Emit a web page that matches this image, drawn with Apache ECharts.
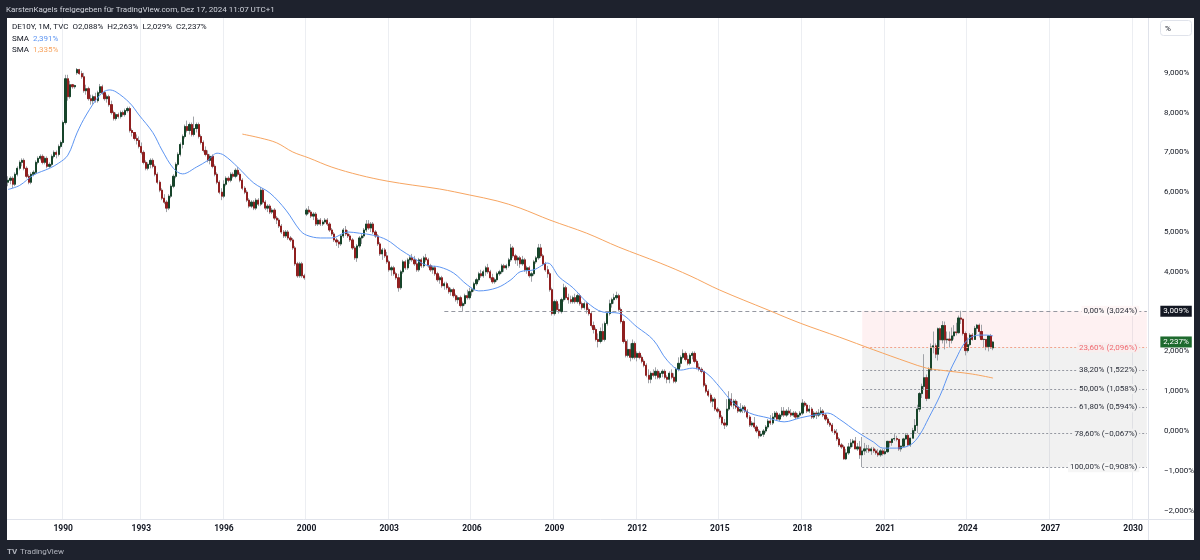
<!DOCTYPE html>
<html><head><meta charset="utf-8">
<script src="https://cdn.jsdelivr.net/npm/echarts/dist/echarts.min.js"></script>
<style>html,body{margin:0;padding:0;background:#1e222d}#c{width:1200px;height:560px}</style>
</head><body><div id="c"></div><script>
// ---------- DATA ----------
const firstMonth = [1988, 1];
const lastMonth = [2030, 7];
const skippedMonths = ['1990-05','1990-06','1999-01','1999-02','1999-03','1999-04','1999-05','1999-06','1999-07','1999-08','1999-09','1999-10','1999-11','1999-12'];
const yearLabels = ['1990','1993','1996','2000','2003','2006','2009','2012','2015','2018','2021','2024','2027','2030'];
const yTicks = [-2,-1,0,1,2,3,4,5,6,7,8,9];

// monthly bars [open, high, low, close]
const bars1988_1992 = [
[6.25,6.4,6.15,6.3],[6.3,6.4,6.2,6.35],[6.35,6.4,6.1,6.2],[6.2,6.5,6.15,6.45],[6.45,6.65,6.4,6.6],[6.6,6.8,6.55,6.75],
[6.75,6.85,6.65,6.8],[6.8,6.85,6.55,6.6],[6.6,6.65,6.35,6.4],[6.4,6.45,6.2,6.25],[6.25,6.5,6.2,6.45],[6.45,6.55,6.4,6.5],
[6.5,6.8,6.45,6.75],[6.75,6.9,6.7,6.85],[6.85,6.95,6.8,6.9],[6.9,6.95,6.7,6.75],[6.75,6.9,6.7,6.85],[6.85,6.9,6.6,6.65],
[6.65,6.75,6.6,6.7],[6.7,6.95,6.65,6.9],[6.9,7.05,6.85,7.0],[7.0,7.05,6.85,6.95],[6.95,7.2,6.9,7.15],[7.15,7.3,7.1,7.25],
[7.25,7.8,7.2,7.75],[7.75,8.95,7.7,8.85],[8.85,8.95,8.3,8.4],[8.4,8.8,8.35,8.7],[8.7,8.72,8.6,8.65],[8.65,8.7,8.6,8.68],
[9.0,9.12,8.95,9.08],[9.08,9.1,8.95,8.98],[8.98,9.05,8.85,8.9],[8.9,9.0,8.5,8.55],[8.55,8.7,8.45,8.6],[8.6,8.65,8.3,8.35],
[8.35,8.45,8.2,8.3],[8.3,8.45,8.2,8.4],[8.4,8.5,8.25,8.3],[8.3,8.55,8.25,8.5],[8.5,8.72,8.45,8.65],[8.65,8.7,8.45,8.5],
[8.5,8.55,8.3,8.35],[8.35,8.45,8.25,8.4],[8.4,8.45,8.15,8.2],[8.2,8.3,7.95,8.0],[8.0,8.05,7.8,7.85],[7.85,8.0,7.8,7.95],
[7.95,8.0,7.85,7.9],[7.9,8.05,7.85,8.0],[8.0,8.05,7.9,7.95],[7.95,8.1,7.9,8.05],[8.05,8.15,8.0,8.1],[8.1,8.15,7.5,7.55],
[7.55,7.6,7.4,7.5],[7.5,7.5,7.3,7.35],[7.35,7.45,7.2,7.3],[7.3,7.4,7.1,7.15]];
const bars1993_1998 = [
[7.15,7.25,6.95,7.0],[7.0,7.05,6.7,6.75],[6.75,6.8,6.55,6.6],[6.6,6.75,6.55,6.7],[6.7,6.85,6.6,6.8],[6.8,6.85,6.6,6.65],
[6.65,6.7,6.4,6.45],[6.45,6.5,6.2,6.25],[6.25,6.3,6.0,6.05],[6.05,6.1,5.8,5.85],[5.85,5.95,5.7,5.75],[5.75,5.8,5.5,5.6],
[5.6,5.95,5.55,5.9],[5.9,6.2,5.85,6.15],[6.15,6.45,6.1,6.4],[6.4,6.75,6.35,6.7],[6.7,7.0,6.65,6.95],[6.95,7.25,6.9,7.2],
[7.2,7.45,7.1,7.4],[7.4,7.7,7.35,7.65],[7.65,7.8,7.5,7.55],[7.55,7.75,7.45,7.7],[7.7,7.75,7.4,7.45],[7.45,7.9,7.4,7.6],
[7.6,7.75,7.5,7.7],[7.7,7.75,7.35,7.4],[7.4,7.45,7.2,7.25],[7.25,7.3,7.0,7.05],[7.05,7.15,6.9,6.95],[6.95,7.05,6.75,6.8],
[6.8,6.95,6.7,6.9],[6.9,6.95,6.6,6.65],[6.65,6.7,6.4,6.45],[6.45,6.5,6.2,6.25],[6.25,6.3,5.95,6.0],[6.0,6.1,5.8,5.9],
[5.9,6.3,5.85,6.2],[6.2,6.4,6.15,6.35],[6.35,6.4,6.25,6.3],[6.3,6.5,6.25,6.45],[6.45,6.5,6.35,6.4],[6.4,6.6,6.35,6.55],
[6.55,6.63,6.4,6.45],[6.45,6.5,6.25,6.3],[6.3,6.35,6.05,6.1],[6.1,6.15,5.95,6.0],[6.0,6.05,5.75,5.8],[5.8,5.85,5.6,5.65],
[5.65,5.8,5.6,5.75],[5.75,5.8,5.55,5.6],[5.6,5.85,5.55,5.8],[5.8,5.85,5.65,5.7],[5.7,6.13,5.65,6.05],[6.05,6.1,5.7,5.75],
[5.75,5.8,5.55,5.6],[5.6,5.7,5.5,5.65],[5.65,5.7,5.45,5.5],[5.5,5.6,5.45,5.55],[5.55,5.6,5.3,5.35],[5.35,5.4,5.2,5.3],
[5.3,5.35,5.1,5.15],[5.15,5.2,4.95,5.0],[5.0,5.05,4.85,4.9],[4.9,5.05,4.85,5.0],[5.0,5.05,4.8,4.85],[4.85,4.9,4.75,4.8],
[4.8,4.85,4.55,4.6],[4.6,4.65,4.15,4.2],[4.2,4.25,3.85,3.9],[3.9,4.25,3.85,4.2],[4.2,4.25,3.85,3.9],[3.9,3.95,3.8,3.85]];
const bars2000_2005 = [
[5.45,5.6,5.4,5.55],[5.55,5.65,5.45,5.5],[5.5,5.55,5.35,5.4],[5.4,5.5,5.3,5.45],[5.45,5.5,5.15,5.2],[5.2,5.35,5.15,5.3],
[5.3,5.35,5.15,5.2],[5.2,5.3,5.15,5.25],[5.25,5.35,5.2,5.3],[5.3,5.35,5.15,5.2],[5.2,5.25,5.0,5.05],[5.05,5.1,4.9,4.95],
[4.95,5.0,4.75,4.8],[4.8,4.85,4.65,4.75],[4.75,4.8,4.6,4.7],[4.7,4.95,4.65,4.9],[4.9,5.1,4.85,5.05],[5.05,5.15,4.9,4.95],
[4.95,5.05,4.85,4.9],[4.9,4.95,4.75,4.8],[4.8,4.85,4.55,4.6],[4.6,4.65,4.3,4.35],[4.35,4.7,4.25,4.65],[4.65,4.9,4.6,4.85],
[4.85,4.95,4.7,4.9],[4.9,5.1,4.85,5.05],[5.05,5.3,5.0,5.2],[5.2,5.3,5.05,5.1],[5.1,5.25,5.0,5.2],[5.2,5.25,4.95,5.0],
[5.0,5.05,4.85,4.9],[4.9,4.95,4.65,4.7],[4.7,4.75,4.4,4.45],[4.45,4.6,4.3,4.55],[4.55,4.6,4.35,4.4],[4.4,4.5,4.2,4.25],
[4.25,4.3,4.0,4.05],[4.05,4.15,3.9,4.1],[4.1,4.15,3.9,3.95],[3.95,4.0,3.8,3.85],[3.85,3.95,3.5,3.6],[3.6,4.05,3.55,4.0],
[4.0,4.3,3.95,4.25],[4.25,4.3,4.05,4.1],[4.1,4.35,4.05,4.3],[4.3,4.4,4.2,4.35],[4.35,4.45,4.25,4.3],[4.3,4.4,4.15,4.2],
[4.2,4.3,4.0,4.05],[4.05,4.35,4.0,4.3],[4.3,4.35,4.1,4.15],[4.15,4.4,4.1,4.35],[4.35,4.45,4.25,4.3],[4.3,4.35,4.1,4.15],
[4.15,4.2,4.0,4.05],[4.05,4.15,3.95,4.1],[4.1,4.15,3.9,3.95],[3.95,4.0,3.75,3.8],[3.8,3.9,3.7,3.85],[3.85,3.9,3.6,3.65],
[3.65,3.75,3.55,3.7],[3.7,3.75,3.55,3.6],[3.6,3.65,3.45,3.5],[3.5,3.6,3.4,3.55],[3.55,3.6,3.35,3.4],[3.4,3.45,3.25,3.3],
[3.3,3.4,3.2,3.35],[3.35,3.4,3.1,3.15],[3.15,3.25,3.0,3.2],[3.2,3.45,3.15,3.4],[3.4,3.55,3.3,3.35],[3.35,3.6,3.3,3.5]];
const bars2006_2011 = [
[3.5,3.6,3.4,3.55],[3.55,3.75,3.5,3.7],[3.7,3.85,3.65,3.8],[3.8,4.0,3.75,3.95],[3.95,4.05,3.85,3.9],[3.9,4.05,3.85,4.0],
[4.0,4.15,3.9,4.1],[4.1,4.2,3.95,4.0],[4.0,4.05,3.8,3.85],[3.85,3.95,3.7,3.75],[3.75,3.85,3.7,3.8],[3.8,4.0,3.75,3.95],
[3.95,4.05,3.9,4.0],[4.0,4.2,3.95,4.15],[4.15,4.2,4.0,4.1],[4.1,4.2,4.05,4.15],[4.15,4.35,4.1,4.3],[4.3,4.7,4.25,4.6],
[4.6,4.65,4.35,4.4],[4.4,4.45,4.2,4.3],[4.3,4.4,4.15,4.35],[4.35,4.4,4.1,4.2],[4.2,4.4,4.15,4.3],[4.3,4.35,4.0,4.05],
[4.05,4.15,3.95,4.1],[4.1,4.15,3.85,3.9],[3.9,4.0,3.75,3.95],[3.95,4.3,3.9,4.25],[4.25,4.4,4.2,4.35],[4.35,4.7,4.3,4.6],
[4.6,4.7,4.35,4.4],[4.4,4.45,4.15,4.2],[4.2,4.25,4.0,4.05],[4.05,4.15,3.85,3.95],[3.95,4.0,3.5,3.55],[3.55,3.6,2.9,2.95],
[2.95,3.3,2.9,3.25],[3.25,3.3,3.0,3.05],[3.05,3.2,2.95,3.0],[3.0,3.35,2.95,3.3],[3.3,3.7,3.25,3.6],[3.6,3.65,3.3,3.35],
[3.35,3.45,3.2,3.3],[3.3,3.4,3.2,3.25],[3.25,3.4,3.2,3.35],[3.35,3.45,3.2,3.25],[3.25,3.45,3.2,3.4],[3.4,3.45,3.15,3.2],
[3.2,3.25,3.05,3.1],[3.1,3.25,3.05,3.2],[3.2,3.25,2.95,3.05],[3.05,3.1,2.9,2.95],[2.95,3.0,2.6,2.65],[2.65,2.75,2.45,2.55],
[2.55,2.6,2.25,2.3],[2.3,2.45,2.1,2.25],[2.25,2.6,2.2,2.5],[2.5,2.7,2.25,2.3],[2.3,2.75,2.25,2.7],[2.7,3.0,2.65,2.95],
[2.95,3.3,2.9,3.2],[3.2,3.35,3.1,3.3],[3.3,3.45,3.2,3.35],[3.35,3.5,3.3,3.4],[3.4,3.45,3.0,3.05],[3.05,3.1,2.7,2.75],
[2.75,2.8,2.2,2.25],[2.25,2.3,1.85,1.9],[1.9,2.3,1.85,2.05],[2.05,2.2,1.75,1.85],[1.85,2.3,1.8,2.2],[2.2,2.25,1.8,1.85]];
const bars2012_2017 = [
[1.85,2.0,1.75,1.95],[1.95,2.0,1.8,1.85],[1.85,1.9,1.7,1.75],[1.75,1.8,1.6,1.65],[1.65,1.7,1.35,1.4],[1.4,1.55,1.2,1.3],
[1.3,1.5,1.2,1.45],[1.45,1.55,1.35,1.4],[1.4,1.6,1.3,1.5],[1.5,1.55,1.3,1.35],[1.35,1.5,1.3,1.45],[1.45,1.55,1.35,1.5],
[1.5,1.55,1.3,1.35],[1.35,1.4,1.2,1.3],[1.3,1.5,1.2,1.45],[1.45,1.55,1.3,1.35],[1.35,1.45,1.2,1.25],[1.25,1.6,1.2,1.55],
[1.55,1.85,1.5,1.7],[1.7,1.9,1.6,1.85],[1.85,2.05,1.8,1.95],[1.95,2.0,1.75,1.8],[1.8,1.9,1.65,1.7],[1.7,1.95,1.65,1.9],
[1.9,2.0,1.8,1.95],[1.95,2.0,1.7,1.75],[1.75,1.8,1.55,1.6],[1.6,1.7,1.5,1.55],[1.55,1.6,1.45,1.5],[1.5,1.5,1.1,1.15],
[1.15,1.2,0.95,1.0],[1.0,1.05,0.85,0.9],[0.9,0.95,0.7,0.75],[0.75,0.85,0.6,0.8],[0.8,0.85,0.5,0.55],[0.55,0.6,0.45,0.5],
[0.5,0.55,0.3,0.35],[0.35,0.4,0.15,0.2],[0.2,0.3,0.05,0.15],[0.15,0.8,0.1,0.55],[0.55,1.0,0.5,0.8],[0.8,0.95,0.6,0.65],
[0.65,0.8,0.55,0.75],[0.75,0.8,0.55,0.6],[0.6,0.75,0.45,0.5],[0.5,0.7,0.45,0.55],[0.55,0.65,0.45,0.6],[0.6,0.65,0.45,0.5],
[0.5,0.55,0.3,0.35],[0.35,0.4,0.1,0.15],[0.15,0.25,0.1,0.2],[0.2,0.35,0.05,0.1],[0.1,0.15,-0.05,0.0],[0.0,0.05,-0.19,-0.12],
[-0.12,0.0,-0.15,-0.08],[-0.08,0.05,-0.15,0.0],[0.0,0.15,-0.05,0.1],[0.1,0.3,0.05,0.25],[0.25,0.4,0.15,0.2],[0.2,0.45,0.15,0.35],
[0.35,0.5,0.3,0.45],[0.45,0.5,0.25,0.3],[0.3,0.45,0.25,0.4],[0.4,0.6,0.35,0.5],[0.5,0.6,0.35,0.4],[0.4,0.55,0.35,0.5],
[0.5,0.6,0.4,0.45],[0.45,0.55,0.35,0.4],[0.4,0.5,0.35,0.45],[0.45,0.5,0.3,0.35],[0.35,0.45,0.3,0.4],[0.4,0.5,0.35,0.45]];
const bars2018_2024 = [
[0.45,0.8,0.4,0.7],[0.7,0.75,0.6,0.65],[0.65,0.7,0.45,0.5],[0.5,0.65,0.45,0.55],[0.55,0.6,0.3,0.35],[0.35,0.5,0.3,0.45],
[0.45,0.5,0.3,0.4],[0.4,0.55,0.35,0.45],[0.45,0.6,0.4,0.5],[0.5,0.55,0.35,0.4],[0.4,0.45,0.25,0.3],[0.3,0.35,0.15,0.2],
[0.2,0.25,0.1,0.15],[0.15,0.2,-0.05,0.0],[0.0,0.05,-0.1,-0.05],[-0.05,0.05,-0.25,-0.2],[-0.2,-0.15,-0.4,-0.35],[-0.35,-0.3,-0.45,-0.4],
[-0.4,-0.35,-0.72,-0.7],[-0.7,-0.45,-0.73,-0.55],[-0.55,-0.3,-0.6,-0.4],[-0.4,-0.2,-0.45,-0.3],[-0.3,-0.2,-0.4,-0.25],[-0.25,-0.15,-0.45,-0.45],
[-0.45,-0.3,-0.5,-0.4],[-0.4,-0.25,-0.7,-0.6],[-0.6,-0.15,-0.908,-0.5],[-0.5,-0.3,-0.6,-0.45],[-0.45,-0.35,-0.55,-0.45],[-0.45,-0.35,-0.55,-0.5],
[-0.5,-0.4,-0.6,-0.45],[-0.45,-0.4,-0.55,-0.5],[-0.5,-0.45,-0.6,-0.55],[-0.55,-0.45,-0.65,-0.6],[-0.6,-0.45,-0.65,-0.5],[-0.5,-0.45,-0.62,-0.57],
[-0.57,-0.45,-0.6,-0.52],[-0.52,-0.25,-0.55,-0.26],[-0.26,-0.25,-0.4,-0.29],[-0.29,-0.2,-0.37,-0.2],[-0.2,-0.08,-0.25,-0.19],[-0.19,-0.12,-0.26,-0.21],
[-0.21,-0.2,-0.5,-0.45],[-0.45,-0.37,-0.52,-0.38],[-0.38,-0.17,-0.4,-0.2],[-0.2,-0.05,-0.22,-0.11],[-0.11,-0.05,-0.38,-0.35],[-0.35,-0.17,-0.4,-0.18],
[-0.18,0.08,-0.18,0.01],[0.01,0.3,-0.07,0.14],[0.14,0.66,-0.05,0.55],[0.55,0.98,0.48,0.94],[0.94,1.19,0.83,1.12],[1.12,1.93,1.05,1.34],
[1.34,1.42,0.75,0.82],[0.82,1.6,0.8,1.54],[1.54,2.2,1.5,2.11],[2.11,2.5,1.95,2.14],[2.14,2.2,1.83,1.93],[1.93,2.6,1.77,2.57],
[2.57,2.6,2.05,2.29],[2.29,2.76,2.2,2.65],[2.65,2.75,2.05,2.29],[2.29,2.5,2.2,2.31],[2.31,2.5,2.1,2.28],[2.28,2.6,2.2,2.39],
[2.39,2.66,2.3,2.49],[2.49,2.72,2.4,2.47],[2.47,2.9,2.45,2.84],[2.84,3.02,2.69,2.81],[2.81,2.82,2.4,2.45],[2.45,2.5,1.9,2.02],
[2.02,2.35,1.97,2.17],[2.17,2.46,2.13,2.41],[2.41,2.46,2.27,2.3],[2.3,2.64,2.3,2.58],[2.58,2.69,2.43,2.66],[2.66,2.7,2.35,2.5],
[2.5,2.67,2.28,2.3],[2.3,2.32,2.1,2.3],[2.3,2.3,2.03,2.12],[2.12,2.4,2.0,2.39],[2.39,2.44,2.07,2.09],[2.088,2.263,2.029,2.237]];

// SMA lines: [bar index, value]
const smaFast = [[0,6.07],[5,6.17],[11,6.43],[18,6.6],[22,6.73],[26,6.93],[30,7.49],[34,7.94],[40,8.44],[44,8.57],[47,8.52],[53,8.24],[57,7.94],[63,7.5],[67,7.06],[72,6.6],[76,6.46],[82,6.63],[87,6.8],[91,6.98],[94,6.93],[100,6.63],[107,6.23],[114,5.98],[121,5.55],[127,5.05],[130,4.92],[136,4.85],[141,4.85],[148,5.0],[153,4.97],[159,4.92],[165,4.8],[171,4.55],[176,4.37],[182,4.17],[188,4.12],[194,3.97],[200,3.67],[205,3.52],[213,3.6],[219,3.8],[223,4.0],[229,4.05],[235,4.22],[240,3.87],[246,3.6],[252,3.24],[259,2.99],[266,2.96],[274,2.61],[281,2.29],[287,1.78],[293,1.53],[298,1.58],[304,1.46],[310,1.1],[316,0.7],[323,0.45],[331,0.33],[338,0.23],[345,0.33],[351,0.4],[357,0.45],[362,0.3],[370,-0.03],[377,-0.28],[381,-0.43],[387,-0.43],[393,-0.35],[397,-0.1],[401,0.33],[406,0.9],[410,1.48],[413,1.83],[416,2.16],[419,2.34],[423,2.41],[426,2.41],[429,2.39]];
const smaSlow = [[102,7.46],[110,7.36],[117,7.24],[124,7.01],[131,6.86],[141,6.63],[153,6.43],[165,6.28],[176,6.18],[188,6.08],[201,5.93],[213,5.78],[223,5.6],[236,5.3],[252,4.97],[266,4.62],[284,4.22],[297,3.9],[310,3.54],[331,3.04],[345,2.71],[362,2.36],[377,2.04],[392,1.73],[400,1.58],[406,1.53],[420,1.43],[429,1.33]];

const legendLast = {open:2.088, high:2.263, low:2.029, close:2.237};
const smaFastLast = 2.391, smaSlowLast = 1.335;

const fibRatios = [0, 23.6, 38.2, 50, 61.8, 78.6, 100];
const fibLevels = [3.024, 2.096, 1.522, 1.058, 0.594, -0.067, -0.908];
const fibStartBar = 372;
const hLineLevel = 3.009, hLineStartBar = 190;

// ---------- BUILD ----------
const months = [];
for (let y = firstMonth[0], m = firstMonth[1]; y < lastMonth[0] || (y === lastMonth[0] && m <= lastMonth[1]); ) {
  const s = y + '-' + String(m).padStart(2, '0');
  if (!skippedMonths.includes(s)) months.push(s);
  m++; if (m > 12) { m = 1; y++; }
}
const lastCat = months.length - 1;
const bars = [].concat(bars1988_1992, bars1993_1998, bars2000_2005, bars2006_2011, bars2012_2017, bars2018_2024);
const labelSet = new Set(yearLabels.map(y => y + '-01'));
const showAt = (i, v) => labelSet.has(v);
const fmt = (v, d) => (v < 0 ? '\u2212' : '') + Math.abs(v).toFixed(d).replace('.', ',');

const UP = '#17442a', DOWN = '#8f1f1f', WICK = '#a0a3a8', TXT = '#131722';
const PINK = 'rgba(242,54,69,0.07)', GRAY = 'rgba(0,0,0,0.055)';
const FONT = 'Roboto, "Liberation Sans", sans-serif';

const wickData = bars.map(b => [b[0], b[3], b[2], b[1]]);
const bodyData = bars.map(b => [b[0], b[3], Math.min(b[0], b[3]), Math.max(b[0], b[3])]);

const fibLabelBg = ['#fef6f6', '#f8eeee', '#f1f1f1', '#f1f1f1', '#f1f1f1', '#f1f1f1', '#f6f6f6'];

const chart = echarts.init(document.getElementById('c'), null, {renderer: 'canvas'});
chart.setOption({
  animation: false,
  backgroundColor: '#1e222d',
  grid: {left: 7, right: 52, top: 18, bottom: 41},
  xAxis: {
    type: 'category', data: months, boundaryGap: true,
    axisLine: {show: false}, axisTick: {show: false},
    axisLabel: {interval: showAt, formatter: v => v.slice(0, 4), color: TXT, fontSize: 8.5, fontWeight: 'bold', fontFamily: FONT, margin: 5},
    splitLine: {show: true, interval: showAt, lineStyle: {color: '#eceef2', width: 1}}
  },
  yAxis: {
    type: 'value', position: 'right', min: -2.211, max: 10.377, scale: true,
    axisLine: {show: false}, axisTick: {show: false}, splitLine: {show: false},
    axisLabel: {customValues: yTicks, formatter: v => fmt(v, 3) + '%', color: TXT, fontSize: 8, fontFamily: FONT, margin: 16}
  },
  series: [
    { // fib shading + lines
      type: 'line', data: [], z: 1, silent: true, clip: false,
      markArea: {silent: true, data: [
        [{coord: [fibStartBar, fibLevels[0]], itemStyle: {color: PINK}}, {coord: [lastCat, fibLevels[1]]}],
        [{coord: [fibStartBar, fibLevels[1]], itemStyle: {color: GRAY}}, {coord: [lastCat, fibLevels[6]]}]
      ]},
      markLine: {silent: true, symbol: 'none', label: {show: false}, data: [
        [{coord: [hLineStartBar, hLineLevel], lineStyle: {color: '#9598a1', type: [4, 3], width: 1}}, {coord: [lastCat, hLineLevel]}]
      ].concat(fibLevels.slice(1).map((lv, i) => [
        {coord: [fibStartBar, lv], lineStyle: {color: i === 0 ? '#f2a38c' : '#9598a1', type: [2, 2], width: 1}}, {coord: [lastCat, lv]}
      ]))},
      markPoint: {silent: true, symbol: 'rect', symbolSize: 1, itemStyle: {color: 'rgba(0,0,0,0)'},
        data: fibLevels.map((lv, i) => ({
          coord: [lastCat, lv],
          label: {show: true, position: 'left', distance: 7,
            formatter: fmt(fibRatios[i], 2) + '% (' + fmt(lv, 3) + '%)',
            color: i === 1 ? '#f0686f' : '#2a2e39', fontSize: 8, fontFamily: FONT,
            backgroundColor: fibLabelBg[i], padding: [1, 2]}
        }))}
    },
    { name: 'wick', type: 'candlestick', data: wickData, barWidth: 1.7, z: 3, silent: true,
      itemStyle: {color: 'rgba(0,0,0,0)', color0: 'rgba(0,0,0,0)', borderColor: WICK, borderColor0: WICK, borderWidth: 1} },
    { name: 'body', type: 'candlestick', data: bodyData, barWidth: 1.7, z: 4, silent: true,
      itemStyle: {color: UP, color0: DOWN, borderColor: UP, borderColor0: DOWN, borderWidth: 1} },
    { name: 'SMA fast', type: 'line', data: smaFast, showSymbol: false, symbol: 'none', smooth: 0.35, z: 5, silent: true,
      lineStyle: {color: '#5d95f2', width: 1} },
    { name: 'SMA slow', type: 'line', data: smaSlow, showSymbol: false, symbol: 'none', smooth: 0.35, z: 5, silent: true,
      lineStyle: {color: '#f7a561', width: 1} },
    { // price axis boxes
      type: 'line', data: [], z: 20, silent: true, clip: false,
      markPoint: {silent: true, symbol: 'rect', symbolSize: 1, itemStyle: {color: 'rgba(0,0,0,0)'}, data: [
        {coord: [lastCat, hLineLevel], label: {show: true, position: 'right', distance: 13, formatter: fmt(hLineLevel, 3) + '%',
          color: '#ffffff', backgroundColor: '#131722', padding: [2, 3, 1, 3], fontSize: 8, fontFamily: FONT}},
        {coord: [lastCat, legendLast.close], label: {show: true, position: 'right', distance: 13, formatter: fmt(legendLast.close, 3) + '%',
          color: '#ffffff', backgroundColor: '#1e6a2e', padding: [2, 3, 1, 3], fontSize: 8, fontFamily: FONT}}
      ]}
    }
  ],
  graphic: [
    {type: 'rect', z: -10, silent: true, shape: {x: 7, y: 18, width: 1187, height: 522}, style: {fill: '#ffffff'}},
    {type: 'line', z: 50, silent: true, shape: {x1: 1148.5, y1: 18, x2: 1148.5, y2: 540}, style: {stroke: '#e0e3eb', lineWidth: 1}},
    {type: 'line', z: 50, silent: true, shape: {x1: 7, y1: 519.5, x2: 1194, y2: 519.5}, style: {stroke: '#e0e3eb', lineWidth: 1}},
    {type: 'rect', z: 50, silent: true, shape: {x: 1160.5, y: 20.5, width: 31, height: 15, r: 3}, style: {fill: '#ffffff', stroke: '#e0e3eb', lineWidth: 1}},
    {type: 'text', z: 51, silent: true, x: 1165, y: 28.5, style: {text: '%', font: '8px ' + FONT, fill: TXT, verticalAlign: 'middle'}},
    {type: 'text', z: 51, silent: true, x: 6, y: 9.5, style: {text: 'KarstenKagels freigegeben f\u00fcr TradingView.com, Dez 17, 2024 11:07 UTC+1', font: '8px ' + FONT, fill: '#d1d4dc', verticalAlign: 'middle'}},
    {type: 'text', z: 51, silent: true, x: 12, y: 27, style: {
      text: 'DE10Y, 1M, TVC  O' + fmt(legendLast.open, 3) + '%  H' + fmt(legendLast.high, 3) + '%  L' + fmt(legendLast.low, 3) + '%  C' + fmt(legendLast.close, 3) + '%',
      font: '8px ' + FONT, fill: TXT, verticalAlign: 'middle'}},
    {type: 'text', z: 51, silent: true, x: 12, y: 38.5, style: {text: '{a|SMA}  {b|' + fmt(smaFastLast, 3) + '%}', font: '8px ' + FONT, verticalAlign: 'middle',
      rich: {a: {fill: TXT, font: '8px ' + FONT}, b: {fill: '#5d95f2', font: '8px ' + FONT}}}},
    {type: 'text', z: 51, silent: true, x: 12, y: 50, style: {text: '{a|SMA}  {b|' + fmt(smaSlowLast, 3) + '%}', font: '8px ' + FONT, verticalAlign: 'middle',
      rich: {a: {fill: TXT, font: '8px ' + FONT}, b: {fill: '#f7a561', font: '8px ' + FONT}}}},
    {type: 'text', z: 51, silent: true, x: 7, y: 552, style: {text: 'TV', font: 'bold 8px ' + FONT, fill: '#b2b5be', verticalAlign: 'middle'}},
    {type: 'text', z: 51, silent: true, x: 20, y: 552, style: {text: 'TradingView', font: '8px ' + FONT, fill: '#b2b5be', verticalAlign: 'middle'}}
  ]
});
</script></body></html>
